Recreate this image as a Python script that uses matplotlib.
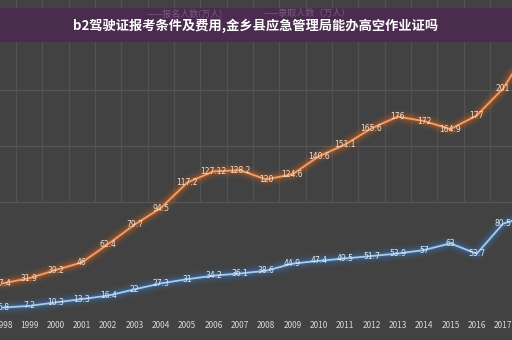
import matplotlib
matplotlib.use("Agg")
from matplotlib import pyplot as plt
from matplotlib.patches import Rectangle

plt.rcParams['font.family'] = ['Noto Sans CJK SC', 'DejaVu Sans']

# 年份与两条折线数据 (万人)
years = list(range(1998, 2019))
apply_num = [27.4, 31.9, 39.2, 46, 62.4, 79.7, 94.5, 117.2, 127.12, 128.2,
             120, 124.6, 140.6, 151.1, 165.6, 176, 172, 164.9, 177, 201, 238]
admit_num = [5.8, 7.2, 10.3, 13.3, 16.4, 22, 27.3, 31, 34.2, 36.1,
             38.6, 44.9, 47.4, 49.5, 51.7, 53.9, 57, 63, 53.7, 80.5, 88]
label_years = years[:20]
title = "b2驾驶证报考条件及费用,金乡县应急管理局能办高空作业证吗"
legend_names = ["报名人数(万人)", "录取人数（万人）"]

fig = plt.figure(figsize=(5.12, 3.4), dpi=100)
fig.patch.set_facecolor('#424242')
ax = fig.add_axes([0, 0, 1, 1])
ax.set_facecolor('#434343')
ax.set_xlim(1997.886, 2017.34)
ax.set_ylim(-23.2, 280)
ax.axis('off')

# 网格线 (下半部分在原图里几乎看不见)
for y in [100, 150, 200, 250]:
    ax.axhline(y, color='#565656', lw=0.9, zorder=0)
for x in range(1998, 2018):
    ax.plot([x + 0.5, x + 0.5], [100, 280], color='#525252', lw=0.9, zorder=0)

# 带光晕的折线
for vals, col, glow in [(apply_num, '#f0a070', '#d0601a'), (admit_num, '#a8cbea', '#3a78c0')]:
    for lw, a in [(10, 0.10), (6.5, 0.18), (3.5, 0.35)]:
        ax.plot(years, vals, color=glow, lw=lw, alpha=a, solid_capstyle='round', zorder=2)
    ax.plot(years, vals, color=col, lw=1.3, zorder=3)

# 数据标签
for x, v in zip(label_years, apply_num[:20]):
    ax.text(x, v, "{:g}".format(v), color='#f3e0d0', fontsize=5.5, ha='center', va='center',
            zorder=4, family=['DejaVu Sans'])
for x, v in zip(label_years, admit_num[:20]):
    ax.text(x, v, "{:g}".format(v), color='#e0ecf6', fontsize=5.5, ha='center', va='center',
            zorder=4, family=['DejaVu Sans'])

# x 轴年份
for x in label_years:
    ax.text(x, -10, str(x), color='#d8d8d8', fontsize=6, ha='center', va='center', zorder=4)

# 顶部紫色标题条
fig.patches.append(Rectangle((0, 0.876), 1, 0.1, transform=fig.transFigure,
                             facecolor='#4a2c4e', edgecolor='none', zorder=5))
fig.text(0.36, 0.962, "——" + legend_names[0], color='#7a5a80', fontsize=6.5, ha='center', va='center', zorder=6)
fig.text(0.60, 0.962, "——" + legend_names[1], color='#7a5a80', fontsize=6.5, ha='center', va='center', zorder=6)
fig.text(0.5, 0.925, title, color='white', fontsize=9.5, fontweight='bold', ha='center', va='center', zorder=7)

fig.savefig("out.png", dpi=100, facecolor=fig.get_facecolor())
